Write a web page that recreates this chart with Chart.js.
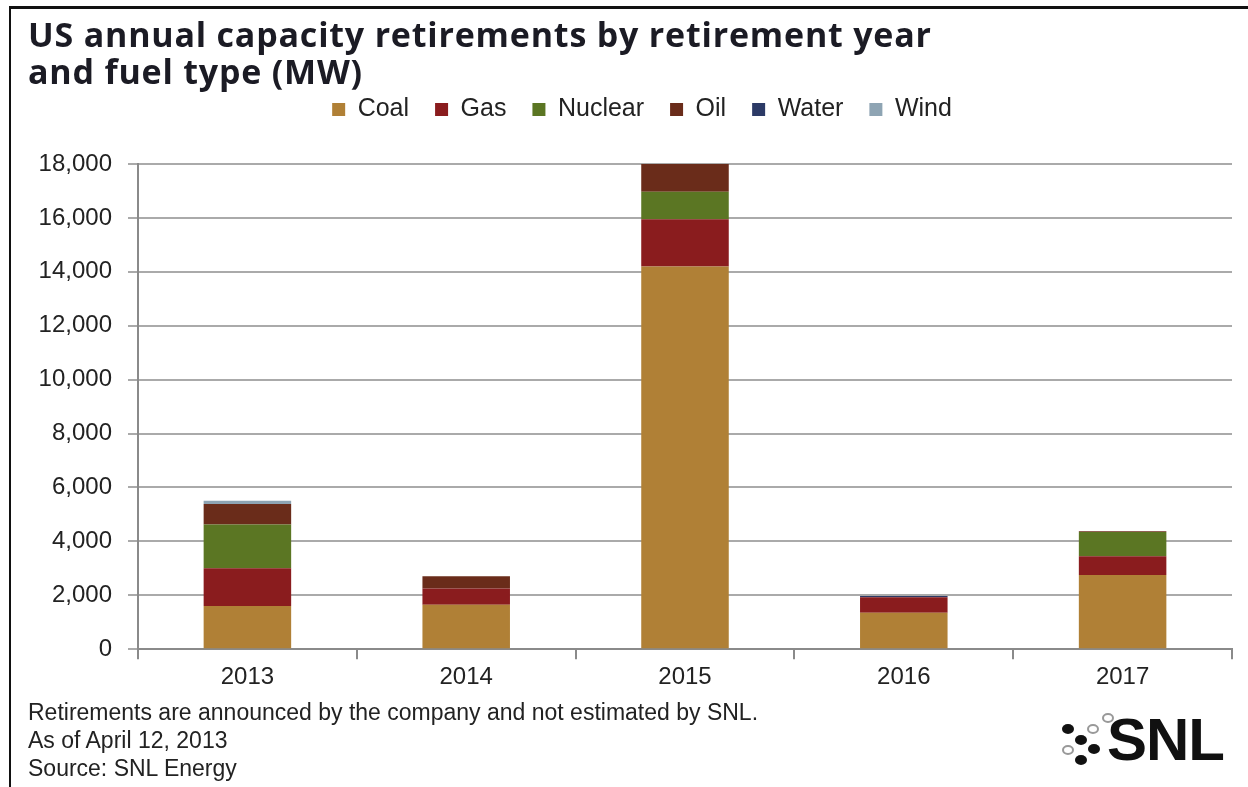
<!DOCTYPE html>
<html>
<head>
<meta charset="utf-8">
<script src="https://cdn.jsdelivr.net/npm/chart.js@4.4.1/dist/chart.umd.min.js"></script>
<style>
  html, body { margin: 0; padding: 0; background: #fff; }
  #wrap { position: relative; width: 1248px; height: 787px; overflow: hidden; }
  #frame { position: absolute; left: 9px; top: 6px; width: 1260px; height: 800px; border-left: 2px solid #111; border-top: 3px solid #111; }
  #title { position: absolute; left: 28px; top: 16px; font: bold 34px "Open Sans", sans-serif; color: #1b1b24; line-height: 37px; letter-spacing: 0.8px; }
  #note { position: absolute; left: 28px; top: 698px; font: 23px "Liberation Sans", sans-serif; color: #222; line-height: 28px; }
  #logo { position: absolute; left: 1107px; top: 710px; font: bold 60px "Liberation Sans", Arial, sans-serif; color: #111; letter-spacing: -1px; line-height: 60px; }
  .dot { position: absolute; width: 12px; height: 10px; border-radius: 50%; transform: translate(-6px, -5px); }
  .f { background: #111; }
  .h { border: 2px solid #999; width: 8px; height: 6px; }
  canvas { position: absolute; left: 0; top: 0; }
</style>
</head>
<body>
<div id="wrap">
  <div id="frame"></div>
  <canvas id="chart" width="1248" height="787"></canvas>
  <div id="title">US annual capacity retirements by retirement year<br>and fuel type (MW)</div>
  <div id="note">Retirements are announced by the company and not estimated by SNL.<br>As of April 12, 2013<br>Source: SNL Energy</div>
  <div class="dot f" style="left:1068px;top:729px"></div>
  <div class="dot f" style="left:1081px;top:740px"></div>
  <div class="dot f" style="left:1094px;top:749px"></div>
  <div class="dot f" style="left:1081px;top:760px"></div>
  <div class="dot h" style="left:1068px;top:750px"></div>
  <div class="dot h" style="left:1093px;top:729px"></div>
  <div class="dot h" style="left:1108px;top:718px"></div>
  <div id="logo">SNL</div>
</div>
<script>
  const years = ["2013", "2014", "2015", "2016", "2017"];
  const coal = [1600, 1650, 14200, 1350, 2750];
  const gas = [1400, 600, 1750, 580, 700];
  const nuclear = [1630, 0, 1020, 0, 900];
  const oil = [760, 460, 1030, 0, 30];
  const water = [0, 0, 0, 40, 0];
  const wind = [120, 0, 0, 0, 0];
  const yTicks = [0, 2000, 4000, 6000, 8000, 10000, 12000, 14000, 16000, 18000];

  const series = [
    { label: "Coal", data: coal, color: "#b08036" },
    { label: "Gas", data: gas, color: "#8a1c1e" },
    { label: "Nuclear", data: nuclear, color: "#5b7623" },
    { label: "Oil", data: oil, color: "#6a2c1a" },
    { label: "Water", data: water, color: "#2c3a66" },
    { label: "Wind", data: wind, color: "#8ea4b3" },
  ];

  // more room under the legend and nudge it right, like the original
  const legendTweak = {
    id: "legendTweak",
    beforeInit(chart) {
      const fit = chart.legend.fit;
      chart.legend.fit = function () {
        fit.bind(chart.legend)();
        this.height += 32;
      };
    },
    afterLayout(chart) {
      chart.legend.left += 16;
      chart.legend.right += 16;
    },
  };

  const ctx = document.getElementById("chart");
  new Chart(ctx, {
    type: "bar",
    data: {
      labels: years,
      datasets: series.map((s) => ({
        label: s.label,
        data: s.data,
        backgroundColor: s.color,
        borderWidth: 0,
        barPercentage: 0.4,
        categoryPercentage: 1.0,
      })),
    },
    plugins: [legendTweak],
    options: {
      responsive: false,
      animation: false,
      layout: { padding: { left: 20, right: 16, top: 71, bottom: 91 } },
      plugins: {
        tooltip: { enabled: false },
        legend: {
          position: "top",
          labels: {
            boxWidth: 13,
            boxHeight: 13,
            padding: 26,
            color: "#222",
            font: { family: "Liberation Sans", size: 25 },
          },
        },
      },
      scales: {
        x: {
          stacked: true,
          grid: { display: true, drawOnChartArea: false, drawTicks: true, tickLength: 10, color: "#8a8a8a", lineWidth: 2 },
          border: { color: "#8a8a8a", width: 2 },
          ticks: { color: "#222", font: { family: "Liberation Sans", size: 24 }, padding: 4 },
        },
        y: {
          stacked: true,
          min: 0,
          max: 18000,
          afterBuildTicks: (scale) => { scale.ticks = yTicks.map((v) => ({ value: v })); },
          afterFit: (scale) => { scale.width = 118; },
          grid: { color: "#aaaaaa", lineWidth: 2, tickLength: 10 },
          border: { color: "#8a8a8a", width: 2 },
          ticks: {
            color: "#222",
            padding: 16,
            font: { family: "Liberation Sans", size: 24 },
            callback: (v) => v.toLocaleString("en-US"),
          },
        },
      },
    },
  });
</script>
</body>
</html>
